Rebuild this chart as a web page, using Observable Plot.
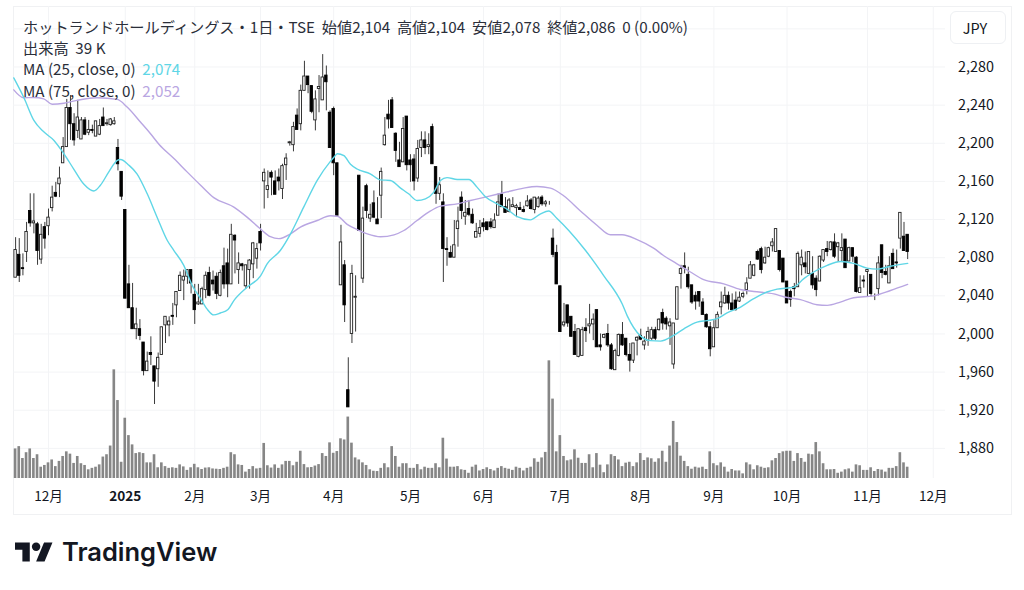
<!DOCTYPE html>
<html lang="ja"><head><meta charset="utf-8">
<script src="https://cdn.jsdelivr.net/npm/d3@7"></script>
<script src="https://cdn.jsdelivr.net/npm/@observablehq/plot@0.6"></script>
<style>
html,body{margin:0;padding:0;background:#fff;width:1024px;height:590px;overflow:hidden}
#wrap{position:relative;width:1024px;height:590px;font-family:"Noto Sans CJK JP","Noto Sans",sans-serif;color:#131722}
#frame{position:absolute;left:13px;top:6px;width:997px;height:507px;border:1px solid #f0f1f3;box-sizing:content-box}
#chart{position:absolute;left:0;top:0}
#chart svg{background:transparent}
.lg{position:absolute;left:23px;font-size:15.2px;line-height:20px;white-space:pre;color:#2a2e39}
#jpy{position:absolute;left:950px;top:11px;width:54px;height:31px;border:1px solid #eef0f3;border-radius:6px;font-size:14.5px;line-height:31px;text-align:center;background:#fff;text-indent:-6px}
#logo{position:absolute;left:15px;top:537.5px}
#tv{position:absolute;left:62px;top:534px;font:600 25.5px/36px Inter,sans-serif;color:#131722}
</style></head><body>
<div id="wrap">
<div id="frame"></div>
<div id="chart"></div>
<div class="lg" style="top:16px">ホットランドホールディングス・1日・TSE  始値2,104  高値2,104  安値2,078  終値2,086  0 (0.00%)</div>
<div class="lg" style="top:37px">出来高  39 K</div>
<div class="lg" style="top:58px">MA (25, close, 0)  <span style="color:#5fd6e6">2,074</span></div>
<div class="lg" style="top:80px">MA (75, close, 0)  <span style="color:#b9a6e2">2,052</span></div>
<div id="jpy">JPY</div>
<svg id="logo" width="38" height="30" viewBox="0 0 36 28" fill="#131722"><path d="M14 22H7V11H0V4h14v18zM28 22h-8l7.5-18h8L28 22z"/><circle cx="20" cy="8" r="4"/></svg>
<div id="tv">TradingView</div>
</div>
<script>
const open = [2059,2083,2069,2086,2129,2116,2115,2078,2112,2113,
2132,2148,2157,2179,2196,2237,2220,2213,2204,2224,
2211,2214,2207,2209,2227,2220,2219,2220,2195,2170,
2130,2052,2027,2005,2005,1991,1961,1980,1966,1963,
1978,2009,2009,2019,2030,2045,2056,2060,2067,2041,
2031,2031,2046,2064,2056,2060,2040,2071,2074,2052,
2103,2067,2073,2050,2067,2073,2079,2107,2160,2151,
2169,2160,2164,2152,2177,2200,2198,2229,2220,2255,
2270,2260,2224,2257,2245,2271,2232,2236,2179,2051,
2072,1941,2000,2038,2166,2058,2155,2121,2137,2120,
2145,2198,2230,2245,2210,2182,2180,2228,2182,2183,
2163,2195,2203,2196,2217,2175,2147,2138,2089,2085,
2080,2110,2143,2123,2131,2125,2101,2105,2116,2117,
2117,2111,2124,2146,2133,2128,2133,2132,2132,2130,
2134,2140,2130,2133,2143,2136,2137,2100,2085,2050,
2009,2030,2018,2002,1976,1977,2006,2008,2010,2025,
1988,1996,2000,1988,1962,1977,1999,1995,1978,1972,
1993,1998,1988,1993,1995,2004,2004,2022,2016,2008,
1968,2015,2063,2071,2062,2051,2040,2044,2033,2020,
2007,1986,2006,2028,2032,2040,2032,2035,2034,2039,
2046,2058,2061,2086,2089,2074,2081,2092,2086,2087,
2079,2055,2044,2049,2049,2072,2074,2063,2063,2058,
2055,2077,2089,2088,2096,2091,2087,2099,2076,2090,
2080,2043,2056,2065,2062,2041,2047,2093,2065,2053,
2084,2075,2100,2102,2104];
const high = [2101,2100,2084,2117,2147,2147,2117,2115,2117,2131,
2155,2159,2175,2206,2246,2250,2231,2245,2227,2227,
2224,2219,2223,2225,2237,2225,2226,2227,2204,2170,
2130,2072,2053,2027,2015,1991,1981,1997,1966,1980,
2007,2018,2018,2032,2044,2065,2067,2067,2067,2052,
2052,2049,2065,2070,2066,2064,2067,2090,2089,2115,
2104,2085,2074,2072,2078,2096,2095,2115,2173,2171,
2171,2171,2173,2178,2189,2202,2222,2236,2261,2286,
2270,2260,2255,2271,2293,2281,2234,2238,2179,2114,
2077,1975,2072,2061,2166,2133,2157,2136,2150,2143,
2174,2227,2245,2248,2211,2201,2227,2228,2188,2188,
2203,2212,2212,2210,2220,2175,2164,2147,2101,2092,
2119,2133,2149,2140,2140,2131,2116,2119,2121,2117,
2121,2126,2147,2160,2143,2142,2143,2136,2138,2134,
2145,2142,2143,2144,2145,2140,2139,2110,2093,2050,
2032,2030,2018,2010,2005,2007,2016,2031,2021,2025,
2000,2000,2010,1990,1984,2000,2012,1995,1990,1990,
1997,2005,1997,2007,2007,2007,2016,2026,2018,2016,
2011,2049,2072,2085,2070,2051,2044,2044,2037,2021,
2012,2014,2023,2044,2049,2044,2042,2044,2044,2044,
2059,2076,2073,2088,2091,2091,2091,2100,2110,2087,
2079,2055,2046,2053,2086,2088,2086,2086,2081,2061,
2082,2088,2097,2097,2105,2096,2105,2099,2091,2090,
2081,2061,2061,2068,2062,2042,2081,2093,2072,2081,
2089,2088,2127,2117,2104];
const low = [2059,2054,2061,2075,2112,2105,2072,2073,2089,2103,
2128,2143,2143,2179,2196,2203,2197,2205,2204,2208,
2208,2210,2207,2208,2218,2218,2218,2219,2171,2140,
2037,2027,2005,1994,1993,1956,1961,1967,1926,1944,
1978,1990,1997,2009,2017,2045,2035,2052,2042,2010,
2030,2031,2037,2039,2045,2036,2039,2047,2038,2052,
2063,2052,2066,2047,2047,2058,2068,2087,2131,2142,
2145,2146,2150,2141,2161,2197,2191,2214,2213,2255,
2252,2231,2213,2232,2245,2234,2195,2166,2124,2051,
2012,1923,1990,2002,2108,2053,2121,2117,2121,2115,
2121,2197,2215,2216,2180,2175,2180,2171,2159,2150,
2159,2185,2188,2188,2178,2136,2140,2054,2071,2080,
2080,2091,2120,2114,2123,2115,2101,2101,2107,2108,
2110,2111,2124,2133,2127,2127,2133,2122,2130,2127,
2133,2130,2126,2132,2134,2133,2135,2080,2052,2002,
2007,2007,1997,1978,1975,1977,1991,2000,1993,1986,
1982,1995,1986,1962,1962,1976,1987,1976,1960,1969,
1977,1993,1983,1987,1993,1993,2003,2004,2004,1988,
1963,2015,2047,2063,2047,2031,2025,2028,2020,2006,
1976,1986,2006,2020,2031,2025,2024,2024,2033,2037,
2041,2058,2060,2077,2063,2073,2080,2086,2086,2065,
2054,2032,2028,2039,2049,2061,2063,2063,2047,2039,
2055,2075,2081,2087,2079,2075,2075,2069,2076,2075,
2043,2043,2048,2039,2039,2035,2040,2058,2061,2053,
2068,2069,2089,2087,2078];
const close = [2088,2061,2068,2107,2116,2118,2087,2104,2100,2122,
2143,2144,2163,2196,2237,2220,2203,2227,2224,2209,
2214,2213,2223,2218,2218,2221,2225,2223,2178,2144,
2037,2027,2005,2010,1998,1961,1971,1978,1950,1975,
2007,2018,2013,2018,2044,2061,2060,2067,2053,2025,
2033,2047,2061,2040,2052,2042,2064,2052,2052,2104,
2098,2074,2071,2072,2077,2095,2089,2095,2169,2155,
2164,2146,2160,2176,2184,2201,2217,2214,2255,2270,
2261,2233,2246,2259,2269,2264,2195,2179,2124,2096,
2030,1923,2063,2039,2108,2121,2129,2125,2122,2115,
2170,2208,2225,2216,2192,2175,2215,2177,2177,2160,
2194,2203,2195,2198,2178,2147,2156,2089,2088,2080,
2093,2118,2129,2127,2125,2116,2107,2111,2112,2109,
2112,2119,2138,2133,2127,2140,2135,2134,2130,2128,
2139,2131,2143,2142,2136,2138,2137,2083,2052,2002,
2012,2011,1997,1978,2005,2004,2003,2010,2015,1986,
1986,1999,1988,1963,1982,1999,1988,1978,1972,1990,
1996,1994,1992,2002,2004,1995,2015,2011,2010,2012,
2011,2049,2068,2069,2049,2033,2034,2034,2020,2007,
1984,2006,2020,2033,2040,2032,2025,2025,2038,2042,
2053,2072,2072,2078,2067,2080,2090,2096,2110,2067,
2054,2032,2036,2047,2084,2080,2070,2086,2051,2046,
2081,2088,2086,2096,2081,2095,2090,2069,2090,2081,
2044,2048,2055,2067,2042,2041,2074,2064,2062,2071,
2068,2074,2127,2087,2086];
const volumeK = [102,110,69,89,102,69,82,39,45,54,
64,41,59,76,92,84,52,76,51,45,
30,35,39,47,74,82,112,375,269,56,
208,148,116,86,89,86,54,54,82,37,
54,41,35,37,35,47,40,28,37,49,
37,31,36,37,33,32,31,35,39,89,
82,47,45,22,31,41,33,35,121,44,
36,47,35,47,59,59,44,56,94,48,
37,38,43,48,86,76,123,87,93,137,
133,212,122,71,64,54,45,30,25,24,
35,51,37,110,76,39,51,51,35,35,
48,30,39,35,35,51,37,139,67,39,
39,41,30,28,18,39,46,26,31,37,
31,26,35,41,35,32,28,39,35,26,
35,39,68,56,71,90,406,274,92,148,
76,61,64,99,70,52,52,82,37,86,
46,20,47,82,76,64,41,53,56,41,
54,86,62,71,68,56,68,94,56,112,
197,124,77,59,41,32,39,36,39,31,
92,51,44,54,39,22,31,26,26,16,
54,47,30,44,39,35,37,61,69,86,
92,94,94,59,86,69,56,84,82,124,
92,51,30,30,31,18,22,30,33,22,
47,44,28,28,37,24,31,29,22,35,
35,41,89,54,39];
const ma25Idx = [-0.5,2.25,5,7.7,10.5,13.2,15.9,18.7,21.4,23.2,25.5,27.8,28.7,31,33.2,36,38.7,41.5,43.3,46,48.3,50.6,52.4,54.2,56,58.1,59.7,63.3,67,68.8,72.4,75.2,78.8,82.5,86.1,87,88,89.8,91.6,93.4,97,99.8,102.5,105.3,107.5,109.8,112.1,114.4,116.2,118,120.8,124,126.2,128.5,131.7,134.4,137.2,140.8,143.6,145.8,148.1,151.3,155.9,160.9,165.9,167.3,170.9,173.6,176.4,180,182.8,186.4,189.1,191.9,194.6,198.2,201.9,205.5,208.3,212.8,215.6,218.3,222,225.6,229.2,232.9,235.6,239.3,244];
const ma25 = [2268.6,2248,2224,2212,2203,2189,2173,2157,2150,2156,2170,2182,2183,2177,2168,2147,2122.5,2098,2087.5,2072,2051,2037,2026,2020,2022,2025.6,2035,2049,2061,2073.5,2087.5,2105,2133,2161,2181,2185,2189,2187,2178,2173,2168,2161.6,2161,2153,2147,2140,2141.7,2148.7,2161,2164,2162,2162,2154,2144,2136.5,2131,2123,2119.7,2126,2129,2121,2108.5,2087.5,2061,2031.6,2019,1998,1993,1992.5,1998.4,2005.4,2012.4,2014,2016,2022,2028,2037,2044,2047,2049,2058,2065,2072,2076,2074,2069,2068,2071,2074];
const ma75Idx = [-0.5,2.25,5,7.7,10,13.2,16.8,22.3,27.8,30.5,34.2,36.9,39.2,43.3,46.9,50.6,54.2,59.7,63.3,67,69.7,72,75.2,77.9,82.5,86.1,88,90.7,93.4,96.2,99.8,103.5,106.2,109.8,113.5,116.2,120.8,124.4,129,134.4,139,142.6,146.3,149.9,154.5,159,162.7,165.9,170,174.5,177.3,180.9,184.6,188.2,193.7,198.2,201.9,207.4,210.1,214.7,219.2,222,225.6,229.2,234.7,239.3,244];
const ma75 = [2256,2247.7,2248,2246.6,2241,2242,2245,2247.7,2246,2238,2222,2210,2199,2184,2170,2156,2143,2133,2122.5,2110,2102,2100,2105,2112,2119,2124,2123.5,2115,2109.5,2105,2102,2104,2108.5,2119,2129,2134,2136.5,2140,2144,2149,2153,2154.6,2153,2145,2129,2114,2104,2104,2099,2090,2082,2073.6,2065,2057,2052.6,2046.6,2044.5,2042,2039,2036,2030.6,2030,2033.4,2038,2040,2045.6,2052];
const priceTicks = [1880,1920,1960,2000,2040,2080,2120,2160,2200,2240,2280];
const gridOnly = [2320];
const monthIdx = [9,49,67,87,108,128,149,171,191,211,233,251];
const monthLabels = ["12月","2月","3月","4月","5月","6月","7月","8月","9月","10月","11月","12月"];
const yearIdx = [30];
const yearLabels = ["2025"];

const floorPrice = 1848.4, kPerUnit = 3.29;
const bars = open.map((o,i)=>({i,o,h:high[i],l:low[i],c:close[i],v:volumeK[i]}));
const m25 = ma25.map((v,k)=>({i:ma25Idx[k],v}));
const m75 = ma75.map((v,k)=>({i:ma75Idx[k],v}));
const ups = bars.filter(d=>d.c>=d.o), downs = bars.filter(d=>d.c<d.o);
const labelOf = new Map([...monthIdx.map((d,k)=>[d,monthLabels[k]]),...yearIdx.map((d,k)=>[d,yearLabels[k]])]);
const gridc = "#f3f4f6";
const chart = Plot.plot({
  width:1024,height:590,
  marginLeft:13,marginRight:79,marginTop:6,marginBottom:112,
  style:{fontFamily:'"Noto Sans CJK JP","Noto Sans",sans-serif',background:"transparent",color:"#131722"},
  x:{domain:[-0.574,254.35],axis:null},
  y:{domain:[floorPrice,2343.45],axis:null},
  marks:[
    Plot.ruleY(priceTicks.concat(gridOnly),{stroke:gridc,strokeWidth:1}),
    Plot.ruleX([...monthIdx,...yearIdx],{stroke:gridc,strokeWidth:1}),
    Plot.rectY(bars,{x1:d=>d.i-0.36,x2:d=>d.i+0.36,y1:floorPrice,y2:d=>floorPrice+d.v/kPerUnit,fill:"#868686"}),
    Plot.ruleX(bars,{x:"i",y1:"l",y2:"h",stroke:"#3a3a3a",strokeWidth:1}),
    Plot.rectY(ups,{x1:d=>d.i-0.33,x2:d=>d.i+0.33,y1:"o",y2:"c",fill:"#fff",stroke:"#222",strokeWidth:0.9}),
    Plot.rectY(downs,{x1:d=>d.i-0.33,x2:d=>d.i+0.33,y1:"o",y2:"c",fill:"#000",stroke:"#000",strokeWidth:0.9}),
    Plot.line(m75,{x:"i",y:"v",stroke:"#b9a6e2",strokeWidth:1.4,curve:"monotone-x"}),
    Plot.line(m25,{x:"i",y:"v",stroke:"#5fd6e6",strokeWidth:1.4,curve:"monotone-x"}),
    Plot.axisY(priceTicks,{anchor:"right",tickSize:0,tickPadding:12.5,fontSize:14.4,label:null,tickFormat:d3.format(",")}),
    Plot.axisX(monthIdx,{anchor:"bottom",tickSize:0,tickPadding:12.5,fontSize:13.6,label:null,tickFormat:d=>labelOf.get(d)}),
    Plot.axisX(yearIdx,{anchor:"bottom",tickSize:0,tickPadding:12.5,fontSize:13.6,fontWeight:600,label:null,tickFormat:d=>labelOf.get(d)})
  ]
});
document.getElementById("chart").appendChild(chart);
</script>
</body></html>
